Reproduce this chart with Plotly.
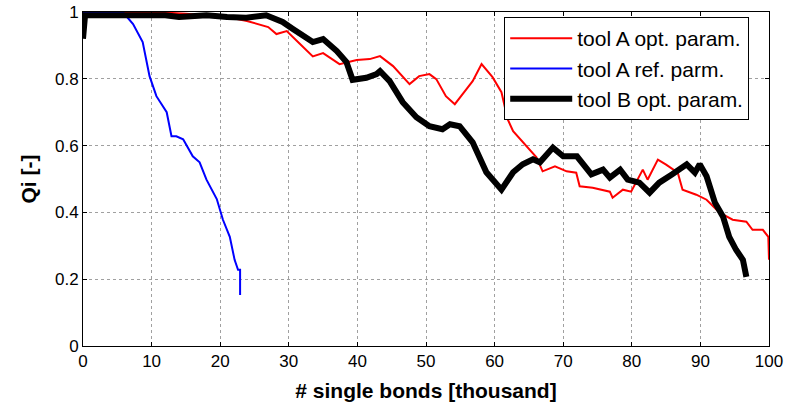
import plotly.graph_objects as go

# ---- data ----
red_x = [0, 5, 10, 15, 18, 21, 23.9, 25.3, 27, 28.2, 29.7, 31.6, 33.5, 35, 37.4, 39.9, 41.8, 43.3,
         45.2, 47.6, 49.0, 50.5, 51.5, 52.9, 54.2, 55.9, 56.8, 58.1, 59.7, 61.0, 61.9, 62.7, 64.7,
         66.1, 67.0, 68.8, 70.5, 71.9, 72.4, 74.3, 76.8, 77.2, 78.7, 79.9, 81.6, 82.3, 83.8, 85.0,
         86.7, 87.4, 89.4, 90.9, 92.8, 94.7, 96.7, 97.6, 99.1, 99.9, 100]
red_y = [1.0, 1.0, 1.0, 0.995, 0.99, 0.985, 0.973, 0.964, 0.955, 0.934, 0.943, 0.905, 0.867, 0.877,
         0.844, 0.856, 0.859, 0.868, 0.838, 0.784, 0.808, 0.814, 0.799, 0.748, 0.724, 0.769, 0.793,
         0.844, 0.805, 0.76, 0.679, 0.643, 0.598, 0.565, 0.523, 0.538, 0.523, 0.519, 0.478, 0.474,
         0.462, 0.444, 0.468, 0.462, 0.528, 0.498, 0.558, 0.543, 0.519, 0.468, 0.453, 0.438, 0.399,
         0.378, 0.372, 0.348, 0.348, 0.327, 0.258]

blue_x = [0, 3, 5.8, 7.3, 8.7, 9.7, 10.7, 12.2, 12.9, 13.6, 14.6, 16, 17, 18, 19.5, 20.4, 21.4,
          22.1, 22.6, 22.9, 22.9]
blue_y = [1.0, 1.0, 1.0, 0.964, 0.91, 0.808, 0.748, 0.7, 0.628, 0.628, 0.619, 0.568, 0.55, 0.498,
          0.44, 0.378, 0.327, 0.258, 0.228, 0.228, 0.153]

black_x = [0, 0.3, 3, 8, 12, 14, 18, 21, 23.8, 26.7, 29.1, 30.6, 32, 33.5, 35, 37, 38.4, 39.3,
           41.3, 42.8, 43.3, 44.7, 46.6, 48.6, 50.5, 52.4, 53.5, 54.9, 56.8, 58.8, 61, 62.7, 64.1,
           65.6, 66.6, 67.7, 68.5, 70, 72, 74.1, 75.8, 76.8, 78.3, 79.4, 81.1, 82.6, 84, 85.9, 88,
           89.2, 89.9, 90.9, 92.1, 93.3, 94.2, 95.2, 96.2, 96.7]
black_y = [0.92, 0.99, 0.99, 0.99, 0.99, 0.985, 0.99, 0.985, 0.983, 0.99, 0.97, 0.949, 0.928, 0.91,
           0.919, 0.883, 0.85, 0.797, 0.803, 0.814, 0.823, 0.793, 0.73, 0.685, 0.658, 0.649, 0.664,
           0.658, 0.61, 0.52, 0.468, 0.52, 0.544, 0.559, 0.55, 0.574, 0.594, 0.568, 0.568, 0.514,
           0.528, 0.504, 0.528, 0.498, 0.489, 0.459, 0.489, 0.514, 0.544, 0.519, 0.544, 0.508, 0.43,
           0.387, 0.327, 0.288, 0.258, 0.207]

series_names = ["tool A opt. param.", "tool A ref. parm.", "tool B opt. param."]
x_ticks = [0, 10, 20, 30, 40, 50, 60, 70, 80, 90, 100]
y_ticks = [0, 0.2, 0.4, 0.6, 0.8, 1.0]
y_tick_text = ["0", "0.2", "0.4", "0.6", "0.8", "1"]

FONT = "Arial, Liberation Sans, sans-serif"

fig = go.Figure()
fig.add_trace(go.Scatter(x=red_x, y=red_y, mode="lines", name=series_names[0],
                         line=dict(color="#ff0000", width=2)))
fig.add_trace(go.Scatter(x=blue_x, y=blue_y, mode="lines", name=series_names[1],
                         line=dict(color="#0000ff", width=2)))
fig.add_trace(go.Scatter(x=black_x, y=black_y, mode="lines", name=series_names[2],
                         line=dict(color="#000000", width=6)))

axis_common = dict(
    showline=True, linecolor="black", linewidth=1, mirror="ticks",
    ticks="inside", ticklen=4, tickcolor="black", tickwidth=1,
    showgrid=True, gridcolor="#a0a0a0", griddash="dot", gridwidth=1,
    zeroline=False, tickfont=dict(size=17, family=FONT, color="black"),
)

fig.update_xaxes(range=[0, 100], tickvals=x_ticks,
                 title=dict(text="<b># single bonds [thousand]</b>",
                            font=dict(size=21, family=FONT, color="black"), standoff=12),
                 **axis_common)
fig.update_yaxes(range=[0, 1], tickvals=y_ticks, ticktext=y_tick_text,
                 title=dict(text="<b>Qi [-]</b>",
                            font=dict(size=21, family=FONT, color="black"), standoff=12),
                 **axis_common)

fig.update_layout(
    width=796, height=402,
    margin=dict(l=83, r=27, t=12, b=56, autoexpand=False),
    plot_bgcolor="white", paper_bgcolor="white",
    font=dict(family=FONT, color="black"),
    legend=dict(x=0.614, y=0.985, xanchor="left", yanchor="top",
                bordercolor="black", borderwidth=1, bgcolor="white",
                font=dict(size=21, family=FONT, color="black"),
                itemwidth=62, tracegroupgap=0),
)

# remove the browser's default 8px body margin so the figure sits at the page origin
fig.write_html("out.html", config={"displayModeBar": False},
               post_script="document.body.style.margin='0';")
